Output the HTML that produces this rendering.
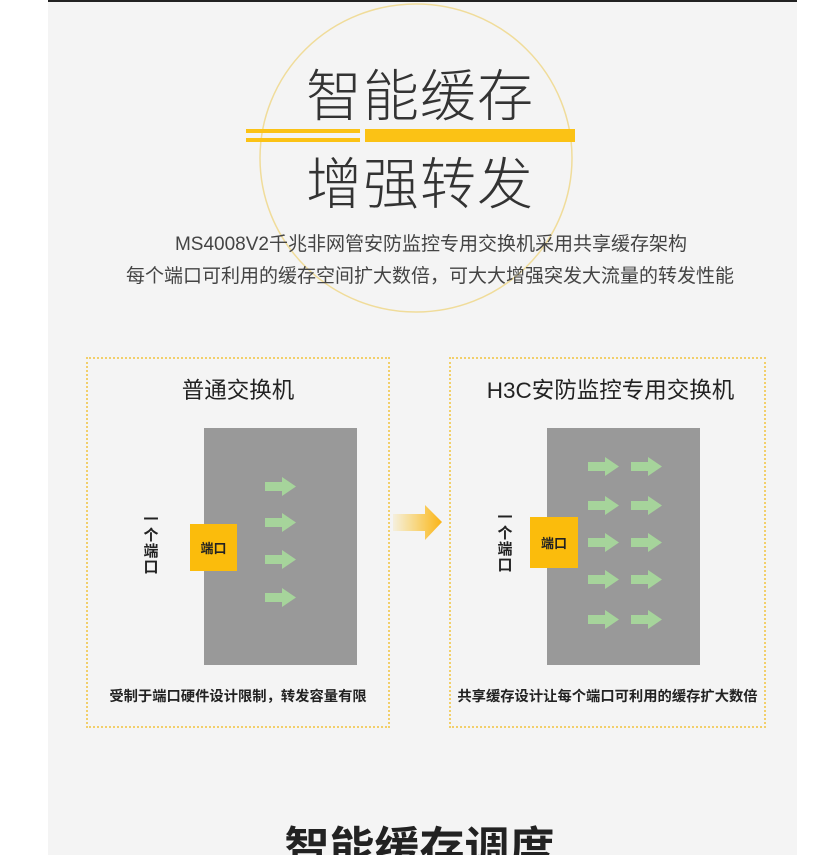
<!DOCTYPE html>
<html><head><meta charset="utf-8"><style>
html,body{margin:0;width:839px;height:855px;overflow:hidden}
body{background:#fff;position:relative;font-family:"Liberation Sans","Noto Sans CJK SC",sans-serif;}
.a{position:absolute}
.panel{left:48px;top:0;width:749px;height:855px;background:#f4f4f4;border-top:2px solid #222;box-sizing:border-box}
.t{white-space:nowrap;color:#333}
.box{border:2px dotted #f2cf6a;box-sizing:border-box}
.gray{background:#999}
.port{background:#fbbc0c;color:#222;font-weight:bold;font-size:13px;display:flex;align-items:center;justify-content:center}
.vt{font-weight:bold;font-size:15px;color:#222;width:16px;line-height:16px;text-align:center}
.cap{font-weight:bold;font-size:14.3px;color:#222;text-align:center}
</style></head><body>
<div class="a panel"></div>
<svg class="a" style="left:0;top:0" width="839" height="855">
<ellipse cx="416" cy="158" rx="156" ry="154" fill="none" stroke="#f0dc9a" stroke-width="1.5"/>
<rect x="246" y="129" width="114" height="4" fill="#fbc215"/>
<rect x="246" y="138" width="114" height="4" fill="#fbc215"/>
<rect x="365" y="129" width="210" height="13" fill="#fbc215"/>
<defs><linearGradient id="g" x1="0" x2="1"><stop offset="0" stop-color="#fbc215" stop-opacity="0.1"/><stop offset="1" stop-color="#fbb315"/></linearGradient>
<g id="ar"><rect x="0" y="5" width="18" height="9" fill="#a6d49b"/><polygon points="17,0 31,9.5 17,19" fill="#a6d49b"/></g></defs>
<polygon points="393,514 425,514 425,505 442,522 425,540 425,531 393,531" fill="url(#g)"/>
</svg>
<div class="a t" style="left:300px;top:52px;width:240px;text-align:center;font-size:56px;font-weight:200;color:#333;letter-spacing:1px">智能缓存</div>
<div class="a t" style="left:300px;top:140px;width:240px;text-align:center;font-size:56px;font-weight:200;color:#333;letter-spacing:1px">增强转发</div>
<div class="a t" style="left:0;top:229px;width:862px;text-align:center;font-size:19px;color:#444">MS4008V2千兆非网管安防监控专用交换机采用共享缓存架构</div>
<div class="a t" style="left:0;top:261px;width:860px;text-align:center;font-size:19px;color:#444">每个端口可利用的缓存空间扩大数倍，可大大增强突发大流量的转发性能</div>

<div class="a box" style="left:86px;top:357px;width:304px;height:371px"></div>
<div class="a box" style="left:449px;top:357px;width:317px;height:371px"></div>
<div class="a t" style="left:86px;top:373px;width:304px;text-align:center;font-size:22.5px;color:#222">普通交换机</div>
<div class="a t" style="left:452px;top:373px;width:317px;text-align:center;font-size:22.5px;color:#222">H3C安防监控专用交换机</div>
<div class="a gray" style="left:204px;top:428px;width:153px;height:237px"></div>
<div class="a gray" style="left:547px;top:428px;width:153px;height:237px"></div>
<div class="a port" style="left:190px;top:524px;width:47px;height:47px">端口</div>
<div class="a port" style="left:530px;top:517px;width:48px;height:51px">端口</div>
<div class="a vt" style="left:143px;top:512px">一个端口</div>
<div class="a vt" style="left:497px;top:510px">一个端口</div>
<svg class="a" style="left:0;top:0" width="839" height="855">
<use href="#ar" x="265" y="477"/><use href="#ar" x="265" y="513"/><use href="#ar" x="265" y="550"/><use href="#ar" x="265" y="588"/>
<use href="#ar" x="588" y="457"/><use href="#ar" x="631" y="457"/>
<use href="#ar" x="588" y="496"/><use href="#ar" x="631" y="496"/>
<use href="#ar" x="588" y="533"/><use href="#ar" x="631" y="533"/>
<use href="#ar" x="588" y="570"/><use href="#ar" x="631" y="570"/>
<use href="#ar" x="588" y="610"/><use href="#ar" x="631" y="610"/>
</svg>
<div class="a cap t" style="left:86px;top:685px;width:304px">受制于端口硬件设计限制，转发容量有限</div>
<div class="a cap t" style="left:449px;top:685px;width:317px">共享缓存设计让每个端口可利用的缓存扩大数倍</div>
<div class="a t" style="left:0;top:812px;width:839px;text-align:center;font-size:45px;font-weight:bold;color:#222">智能缓存调度</div>
</body></html>
